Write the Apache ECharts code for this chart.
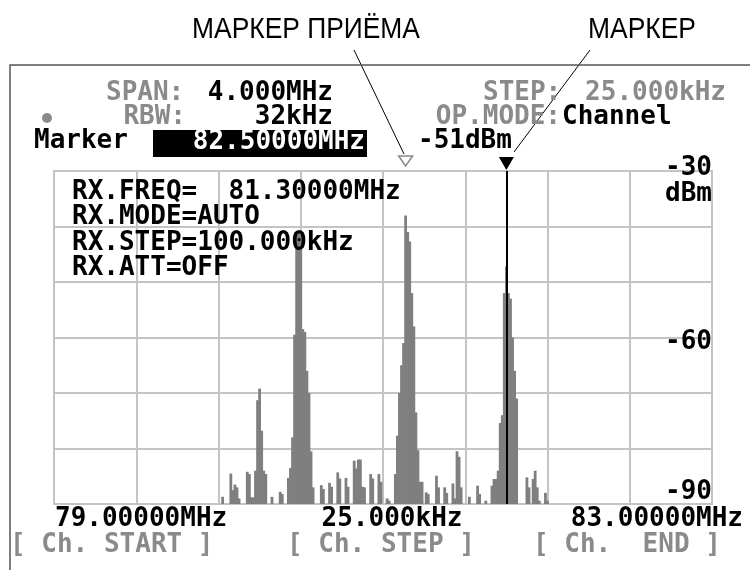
<!DOCTYPE html>
<html>
<head>
<meta charset="utf-8">
<script src="https://cdn.jsdelivr.net/npm/echarts@6/dist/echarts.min.js"></script>
<style>
  html, body { margin: 0; background: #fff; }
  #chart { width: 750px; height: 570px; }
</style>
</head>
<body>
<div id="chart"></div>
<script>
// trace: frequency (MHz) and level (dBm), empty bins left out
var traceFreq = [
  80.025, 80.075, 80.0875, 80.1, 80.1125, 80.125, 80.175, 80.1875, 80.2, 80.2125,
  80.225, 80.2375, 80.25, 80.2625, 80.275, 80.2875, 80.325, 80.375, 80.3875, 80.425,
  80.4375, 80.45, 80.4625, 80.475, 80.4875, 80.5, 80.5125, 80.525, 80.5375, 80.55,
  80.5625, 80.575, 80.625, 80.6375, 80.675, 80.6875, 80.725, 80.7375, 80.775, 80.7875,
  80.825, 80.8375, 80.85, 80.8625, 80.875, 80.8875, 80.925, 80.9375, 80.975, 80.9875,
  81.025, 81.0375, 81.075, 81.0875, 81.1, 81.1125, 81.125, 81.1375, 81.15, 81.1625,
  81.175, 81.1875, 81.2, 81.2125, 81.225, 81.2375, 81.2625, 81.275, 81.325, 81.3375,
  81.375, 81.3875, 81.425, 81.4375, 81.45, 81.4625, 81.475, 81.525, 81.575, 81.5875,
  81.625, 81.6625, 81.675, 81.6875, 81.7, 81.7125, 81.725, 81.7375, 81.75, 81.7625,
  81.775, 81.7875, 81.8, 81.8125, 81.875, 81.8875, 81.9125, 81.925, 81.9375, 81.95,
  81.9875, 82.0
];
var traceDbm = [
  -88.7, -84.5, -87.5, -86.5, -87, -89, -84.2, -84.6, -88.8, -88.8,
  -84, -71.3, -69.2, -76.8, -84, -84.6, -88.7, -87.8, -88.2, -85.3,
  -83.5, -78, -59.5, -41, -40.8, -41.5, -58.5, -59, -66, -70,
  -80.5, -87, -86.6, -87.3, -86.2, -86.9, -84.3, -85.4, -85.3, -86.9,
  -82.2, -83.6, -82, -82, -86.9, -87, -84.6, -85.4, -84.6, -86,
  -89, -89.4, -84.6, -77.7, -70, -65, -61, -38, -41, -42.7,
  -52, -58, -73.5, -80.3, -86, -86, -87.9, -88.2, -84.9, -87,
  -87, -88, -86.3, -89, -80.5, -81.5, -87, -88.7, -86.7, -88.2,
  -89.4, -86.7, -85.5, -85.5, -84, -75.4, -74, -52, -47.2, -52,
  -53, -60, -66, -71, -85.2, -87, -85.5, -84, -87, -89.4,
  -88, -89.4
];
var levelTicks = [-30, -60, -90];
var freqLabels = ['79.00000MHz', '25.000kHz', '83.00000MHz'];
var softKeys = ['[ Ch. START ]', '[ Ch. STEP ]', '[ Ch.  END ]'];
var rxLines = ['RX.FREQ=  81.30000MHz', 'RX.MODE=AUTO', 'RX.STEP=100.000kHz', 'RX.ATT=OFF'];
var markerFreq = 81.75;
var rxMarkerFreq = 81.1375;

var chart = echarts.init(document.getElementById('chart'));

var LCD = 'bold 26px "DejaVu Sans Mono"';
var SANS = '30px "Liberation Sans"';
var GRAY = '#8a8a8a';

function txt(x, y, s, color, align, font) {
  return {
    type: 'text', x: x, y: y, z: 10,
    style: { text: s, fill: color, font: font || LCD, align: align || 'left', verticalAlign: 'middle' }
  };
}

var graphics = [
  // callouts (narrowed a bit to match the condensed face)
  Object.assign(txt(0, 0, 'МАРКЕР ПРИЁМА', '#000', 'center', SANS), { x: 306, y: 30, scaleX: 0.88 }),
  Object.assign(txt(0, 0, 'МАРКЕР', '#000', 'center', SANS), { x: 642, y: 30, scaleX: 0.88 }),
  { type: 'line', shape: { x1: 354, y1: 50, x2: 404, y2: 154 }, style: { stroke: '#000', lineWidth: 1 } },
  { type: 'line', shape: { x1: 590, y1: 50, x2: 514, y2: 152 }, style: { stroke: '#000', lineWidth: 1 } },
  // screen frame
  { type: 'polyline', shape: { points: [[10, 570], [10, 65], [750, 65]] }, style: { stroke: '#555', lineWidth: 1.5, fill: null } },
  // header
  txt(106, 93, 'SPAN:', GRAY),
  txt(333, 93, '4.000MHz', '#000', 'right'),
  txt(483, 93, 'STEP:', GRAY),
  txt(726, 93, '25.000kHz', GRAY, 'right'),
  { type: 'circle', shape: { cx: 47, cy: 118, r: 5 }, style: { fill: GRAY } },
  txt(186, 117, 'RBW:', GRAY, 'right'),
  txt(333, 117, '32kHz', '#000', 'right'),
  txt(561, 117, 'OP.MODE:', GRAY, 'right'),
  txt(562, 117, 'Channel', '#000'),
  txt(34, 141, 'Marker', '#000'),
  { type: 'rect', shape: { x: 153, y: 130, width: 214, height: 27 }, style: { fill: '#000' } },
  txt(365, 142, '82.50000MHz', '#fff', 'right'),
  txt(418, 141, '-51dBm', '#000'),
  // bottom labels
  txt(55, 519, freqLabels[0], '#000'),
  txt(392, 519, freqLabels[1], '#000', 'center'),
  txt(743, 519, freqLabels[2], '#000', 'right'),
  txt(10, 545, softKeys[0], GRAY),
  txt(287, 545, softKeys[1], GRAY),
  txt(533, 545, softKeys[2], GRAY)
];
rxLines.forEach(function (s, i) {
  graphics.push(txt(72, 192 + i * 25.4, s, '#000'));
});

var option = {
  animation: false,
  backgroundColor: '#fff',
  grid: {
    left: 54, top: 171, width: 658, height: 333,
    show: true, borderColor: '#c4c4c4', borderWidth: 2
  },
  xAxis: {
    type: 'value', min: 79, max: 83, interval: 0.5,
    axisLine: { show: false }, axisTick: { show: false }, axisLabel: { show: false },
    splitLine: { lineStyle: { color: '#c4c4c4', width: 2 } }
  },
  yAxis: {
    type: 'value', position: 'right', min: -90, max: -30, interval: 10, startValue: -90,
    name: 'dBm', nameLocation: 'end', nameGap: -23,
    nameTextStyle: { fontWeight: 'bold', fontSize: 26, fontFamily: 'DejaVu Sans Mono', color: '#000', align: 'right', verticalAlign: 'middle' },
    axisLine: { show: false }, axisTick: { show: false },
    splitLine: { lineStyle: { color: '#c4c4c4', width: 2 } },
    axisLabel: {
      inside: true, margin: 0, color: '#000',
      fontFamily: 'DejaVu Sans Mono', fontWeight: 'bold', fontSize: 26,
      formatter: function (v) {
        if (v === levelTicks[0]) return '{t|' + v + '}';
        if (v === levelTicks[1]) return '{m|' + v + '}';
        if (v === levelTicks[2]) return '{b|' + v + '}';
        return '';
      },
      rich: {
        t: { fontFamily: 'DejaVu Sans Mono', fontWeight: 'bold', fontSize: 26, padding: [0, 0, 6, 0] },
        m: { fontFamily: 'DejaVu Sans Mono', fontWeight: 'bold', fontSize: 26, padding: [10, 0, 0, 0] },
        b: { fontFamily: 'DejaVu Sans Mono', fontWeight: 'bold', fontSize: 26, padding: [0, 0, 23, 0] }
      }
    }
  },
  series: [{
    type: 'bar',
    data: traceFreq.map(function (f, i) { return [f, traceDbm[i]]; }),
    barWidth: 2.8,
    itemStyle: { color: '#7f7f7f' },
    silent: true,
    markLine: {
      silent: true, symbol: 'none', label: { show: false },
      lineStyle: { color: '#000', width: 2, type: 'solid' },
      data: [{ xAxis: markerFreq }]
    }
  }],
  graphic: graphics
};

chart.setOption(option);

// marker triangles sit just above the grid, placed through the axis scale
var rxPt = chart.convertToPixel({ gridIndex: 0 }, [rxMarkerFreq, -30]);
var mkPt = chart.convertToPixel({ gridIndex: 0 }, [markerFreq, -30]);
graphics.push({
  type: 'polygon', z: 11,
  shape: { points: [[rxPt[0] - 7, rxPt[1] - 15], [rxPt[0] + 7, rxPt[1] - 15], [rxPt[0], rxPt[1] - 5]] },
  style: { fill: '#fff', stroke: '#888', lineWidth: 1.5 }
});
graphics.push({
  type: 'polygon', z: 11,
  shape: { points: [[mkPt[0] - 7.5, mkPt[1] - 14], [mkPt[0] + 7.5, mkPt[1] - 14], [mkPt[0], mkPt[1] - 1]] },
  style: { fill: '#000' }
});
chart.setOption({ graphic: graphics });
</script>
</body>
</html>
